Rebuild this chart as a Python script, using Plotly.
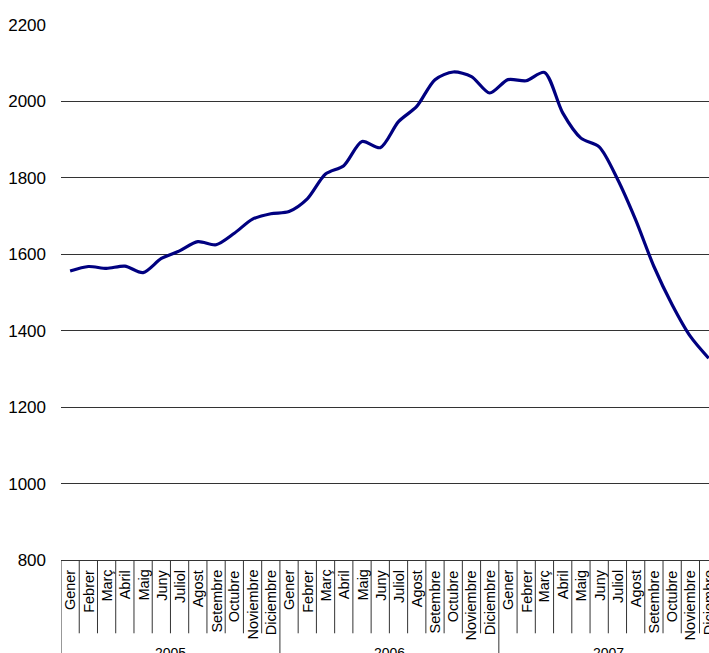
import plotly.graph_objects as go

# monthly values 2005-2007
YEARS = ["2005", "2006", "2007"]
MONTHS = ["Gener", "Febrer", "Març", "Abril", "Maig", "Juny", "Juliol",
          "Agost", "Setembre", "Octubre", "Noviembre", "Diciembre"]
VALUES_2005 = [1556, 1568, 1563, 1569, 1552, 1589, 1609, 1633, 1625, 1655, 1692, 1706]
VALUES_2006 = [1712, 1745, 1810, 1832, 1895, 1879, 1947, 1987, 2057, 2077, 2065, 2022]
VALUES_2007 = [2057, 2054, 2076, 1970, 1904, 1881, 1797, 1690, 1568, 1468, 1385, 1328]

FONT = "Liberation Sans, Arial, sans-serif"
LINE_COLOR = "#000080"
AXIS_COLOR = "#333333"

values = VALUES_2005 + VALUES_2006 + VALUES_2007
idx = list(range(len(values)))
n = len(values)

fig = go.Figure(go.Scatter(
    x=idx, y=values, mode="lines",
    line=dict(color=LINE_COLOR, width=3.2, shape="spline", smoothing=0.8),
    hoverinfo="skip",
))

# month labels (rotated) and year labels under them
annotations = []
for k, year in enumerate(YEARS):
    for m, month in enumerate(MONTHS):
        annotations.append(dict(
            x=k * 12 + m, y=0, xref="x", yref="paper",
            text=month, textangle=-90, showarrow=False,
            xanchor="center", yanchor="top", yshift=-8,
            font=dict(family=FONT, size=14.5, color="black"),
        ))
    annotations.append(dict(
        x=k * 12 + 5.5, y=0, xref="x", yref="paper",
        text=year, showarrow=False,
        xanchor="center", yanchor="top", yshift=-83,
        font=dict(family=FONT, size=14, color="black"),
    ))

# category boundaries: short ticks between months, long ones between years
shapes = []
for b in range(n + 1):
    long_tick = b % 12 == 0
    shapes.append(dict(
        type="line", xref="x", yref="paper",
        x0=b - 0.5, x1=b - 0.5, y0=0, y1=-0.175 if long_tick else -0.137,
        line=dict(color=AXIS_COLOR, width=1),
    ))

fig.update_layout(
    width=709, height=653,
    margin=dict(l=61, r=0, t=25, b=93),
    paper_bgcolor="white", plot_bgcolor="white",
    showlegend=False,
    font=dict(family=FONT, color="black"),
    annotations=annotations,
    shapes=shapes,
)
fig.update_xaxes(
    range=[-0.5, 35.02], showticklabels=False, ticks="",
    showgrid=False, zeroline=False,
    showline=True, linecolor=AXIS_COLOR, linewidth=1,
)
fig.update_yaxes(
    range=[800, 2200], dtick=200, tick0=800,
    showgrid=True, gridcolor=AXIS_COLOR, gridwidth=1,
    zeroline=False, showline=False, ticks="",
    ticklabelstandoff=14,
    tickfont=dict(family=FONT, size=17, color="black"),
)

# drop the page's default body margin so the chart sits at the window corner
fig.write_html(
    "out.html",
    config={"displayModeBar": False},
    post_script="document.body.style.margin='0';",
)
